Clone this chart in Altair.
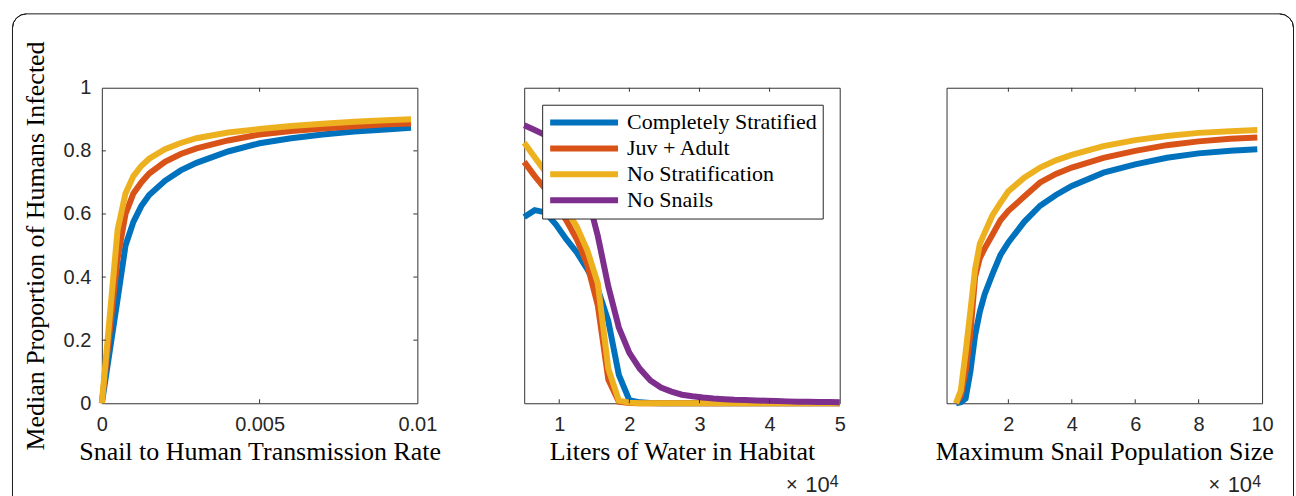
import altair as alt
import pandas as pd

SERIES = ["Completely Stratified", "Juv + Adult", "No Stratification", "No Snails"]
COLORS = ["#0072BD", "#D95319", "#EDB120", "#7E2F8E"]

# Panel 1: snail-to-human transmission rate
rate_x = [0, 0.0005, 0.00075, 0.001, 0.00125, 0.0015, 0.002, 0.0025, 0.003,
          0.004, 0.005, 0.006, 0.007, 0.008, 0.009, 0.0098]
rate_blue = [0, 0.33, 0.50, 0.575, 0.625, 0.66, 0.705, 0.738, 0.762,
             0.798, 0.824, 0.840, 0.852, 0.861, 0.868, 0.873]
rate_red = [0, 0.46, 0.60, 0.665, 0.700, 0.728, 0.765, 0.790, 0.808,
            0.833, 0.852, 0.863, 0.871, 0.878, 0.884, 0.887]
rate_yellow = [0, 0.55, 0.665, 0.720, 0.752, 0.775, 0.805, 0.825, 0.840,
               0.858, 0.869, 0.879, 0.886, 0.892, 0.897, 0.900]

# Panel 2: liters of water in habitat
water_x = [5000, 6500, 8000, 9500, 11000, 12500, 14000, 15500, 17000, 18500,
           20000, 21500, 23000, 24500, 26000, 27500, 29000, 30500, 32000, 33500,
           35000, 36500, 38000, 39500, 41000, 42500, 44000, 45500, 47000, 48500, 50000]
water_blue = [0.59, 0.612, 0.605, 0.567, 0.52, 0.478, 0.425, 0.362, 0.26, 0.09,
              0.01, 0.003, 0.001, 0.0, 0.0, 0.0, 0.0, 0.0, 0.0, 0.0,
              0.0, 0.0, 0.0, 0.0, 0.0, 0.0, 0.0, 0.0, 0.0, 0.0, 0.0]
water_red = [0.765, 0.72, 0.68, 0.63, 0.58, 0.52, 0.44, 0.31, 0.075, 0.005,
             0.001, 0.0, 0.0, 0.0, 0.0, 0.0, 0.0, 0.0, 0.0, 0.0,
             0.0, 0.0, 0.0, 0.0, 0.0, 0.0, 0.0, 0.0, 0.0, 0.0, 0.0]
water_yellow = [0.826, 0.78, 0.735, 0.68, 0.615, 0.56, 0.485, 0.38, 0.11, 0.008,
                0.002, 0.0, 0.0, 0.0, 0.0, 0.0, 0.0, 0.0, 0.0, 0.0,
                0.0, 0.0, 0.0, 0.0, 0.0, 0.0, 0.0, 0.0, 0.0, 0.0, 0.0]
water_purple = [0.881, 0.866, 0.85, 0.83, 0.80, 0.75, 0.66, 0.53, 0.37, 0.24,
                0.16, 0.109, 0.072, 0.05, 0.037, 0.027, 0.022, 0.018, 0.015, 0.013,
                0.011, 0.010, 0.009, 0.008, 0.007, 0.006, 0.005, 0.005, 0.004, 0.004, 0.003]

# Panel 3: maximum snail population size
pop_x = [3500, 5000, 6500, 8000, 9500, 11000, 12500, 15000, 17500, 20000,
         25000, 30000, 35000, 40000, 50000, 60000, 70000, 80000, 90000, 98500]
pop_blue = [0.0, 0.003, 0.015, 0.10, 0.215, 0.29, 0.345, 0.41, 0.47, 0.51,
            0.575, 0.626, 0.66, 0.689, 0.731, 0.757, 0.778, 0.792, 0.80, 0.805]
pop_red = [0.0, 0.025, 0.10, 0.22, 0.40, 0.46, 0.49, 0.535, 0.58, 0.61,
           0.655, 0.70, 0.727, 0.747, 0.778, 0.80, 0.818, 0.83, 0.838, 0.842]
pop_yellow = [0.0, 0.04, 0.16, 0.29, 0.425, 0.505, 0.54, 0.596, 0.635, 0.672,
              0.715, 0.747, 0.77, 0.787, 0.815, 0.834, 0.847, 0.857, 0.862, 0.866]

y_tick_values = [0, 0.2, 0.4, 0.6, 0.8, 1]
rate_tick_values = [0, 0.005, 0.01]
water_tick_values = [10000, 20000, 30000, 40000, 50000]
pop_tick_values = [20000, 40000, 60000, 80000, 100000]

W = H = 316
AXIS_COLOR = "#333333"
FRAME_COLOR = "#1a1a1a"
LABEL_FONT = "Liberation Sans"
TITLE_FONT = "Liberation Serif"


def long_df(xs, ys):
    rows = []
    for s, vals in ys.items():
        for xv, yv in zip(xs, vals):
            rows.append({"series": s, "x": xv, "y": yv})
    return pd.DataFrame(rows)


color_scale = alt.Scale(domain=SERIES, range=COLORS)


def line_layers(df, xenc, yenc, legend=None):
    layers = []
    for s in SERIES:
        if s not in set(df["series"]):
            continue
        layers.append(
            alt.Chart(df).transform_filter(alt.datum.series == s)
            .mark_line(strokeWidth=6)
            .encode(x=xenc, y=yenc,
                    color=alt.Color("series:N", scale=color_scale, legend=legend))
        )
    return layers


def x_tick_layers(vals, xenc):
    d = pd.DataFrame({"x": vals})
    top = alt.Chart(d).mark_rule(color=AXIS_COLOR, strokeWidth=1).encode(
        x=xenc, y=alt.value(0), y2=alt.value(4))
    bot = alt.Chart(d).mark_rule(color=AXIS_COLOR, strokeWidth=1).encode(
        x=xenc, y=alt.value(H), y2=alt.value(H - 4))
    return [top, bot]


def y_tick_layers(vals, yenc):
    d = pd.DataFrame({"y": vals})
    left = alt.Chart(d).mark_rule(color=AXIS_COLOR, strokeWidth=1).encode(
        y=yenc, x=alt.value(0), x2=alt.value(4))
    right = alt.Chart(d).mark_rule(color=AXIS_COLOR, strokeWidth=1).encode(
        y=yenc, x=alt.value(W), x2=alt.value(W - 4))
    return [left, right]


def exponent_layers():
    one = pd.DataFrame({"k": [0]})
    times = alt.Chart(one).mark_text(
        text="×", align="right", baseline="alphabetic",
        font=LABEL_FONT, fontSize=20, color="#262626").encode(
        x=alt.value(274), y=alt.value(404))
    ten = alt.Chart(one).mark_text(
        text="10", align="right", baseline="alphabetic",
        font=LABEL_FONT, fontSize=22, color="#262626").encode(
        x=alt.value(306), y=alt.value(405))
    sup = alt.Chart(one).mark_text(
        text="4", align="right", baseline="alphabetic",
        font=LABEL_FONT, fontSize=16, color="#262626").encode(
        x=alt.value(315), y=alt.value(400))
    return [times, ten, sup]


def frame_layers():
    one = pd.DataFrame({"k": [0]})
    L, R, T, B, r = -89.5, 1193.5, -74, 410, 14
    top = alt.Chart(one).mark_rule(color=FRAME_COLOR, strokeWidth=1).encode(
        x=alt.value(L + r), x2=alt.value(R - r), y=alt.value(T))
    left = alt.Chart(one).mark_rule(color=FRAME_COLOR, strokeWidth=1).encode(
        x=alt.value(L), y=alt.value(T + r), y2=alt.value(B))
    right = alt.Chart(one).mark_rule(color=FRAME_COLOR, strokeWidth=1).encode(
        x=alt.value(R), y=alt.value(T + r), y2=alt.value(B))
    tl = alt.Chart(one).mark_arc(
        theta=4.712389, theta2=6.283185, radius=r, radius2=r,
        filled=False, stroke=FRAME_COLOR, strokeWidth=1).encode(
        x=alt.value(L + r), y=alt.value(T + r))
    tr = alt.Chart(one).mark_arc(
        theta=0.0, theta2=1.570796, radius=r, radius2=r,
        filled=False, stroke=FRAME_COLOR, strokeWidth=1).encode(
        x=alt.value(R - r), y=alt.value(T + r))
    return [top, left, right, tl, tr]


def x_axis(values, title, label_expr=None, fmt=None):
    kw = dict(values=values, title=title, labelFlush=False, ticks=False,
              domain=False, grid=False, labelPadding=11, titlePadding=4)
    if label_expr:
        kw["labelExpr"] = label_expr
    if fmt:
        kw["format"] = fmt
    return alt.Axis(**kw)


y_scale = alt.Scale(domain=[0, 1], nice=False, zero=False)

# ---- Panel 1
df1 = long_df(rate_x, {SERIES[0]: rate_blue, SERIES[1]: rate_red, SERIES[2]: rate_yellow})
x1 = alt.X("x:Q", scale=alt.Scale(domain=[0, 0.01], nice=False, zero=False),
           axis=x_axis(rate_tick_values, "Snail to Human Transmission Rate", fmt="~g"))
y1 = alt.Y("y:Q", scale=y_scale,
           axis=alt.Axis(values=y_tick_values, format="~g", title="Median Proportion of Humans Infected",
                         ticks=False, domain=False, grid=False, labelPadding=11, titlePadding=15))
panel1 = alt.layer(
    *line_layers(df1, x1, y1),
    *x_tick_layers([0.005], x1),
    *y_tick_layers([0.2, 0.4, 0.6, 0.8], y1),
    *frame_layers(),
).properties(width=W, height=H)

# ---- Panel 2
df2 = long_df(water_x, {SERIES[0]: water_blue, SERIES[1]: water_red,
                        SERIES[2]: water_yellow, SERIES[3]: water_purple})
x2 = alt.X("x:Q", scale=alt.Scale(domain=[5000, 50000], nice=False, zero=False),
           axis=x_axis(water_tick_values, "Liters of Water in Habitat",
                       label_expr="format(datum.value / 10000, '~g')"))
y2 = alt.Y("y:Q", scale=y_scale, axis=None)
legend = alt.Legend(
    title=None, orient="none", legendX=18, legendY=17, direction="vertical",
    symbolType="stroke", symbolSize=4624, symbolStrokeWidth=6,
    labelFont=TITLE_FONT, labelFontSize=22, labelColor="black", labelLimit=400,
    labelOffset=6, clipHeight=25.5, rowPadding=0, padding=5,
    strokeColor="#262626", fillColor="white",
)
panel2 = alt.layer(
    *line_layers(df2, x2, y2, legend=legend),
    *x_tick_layers([10000, 20000, 30000, 40000], x2),
    *exponent_layers(),
).properties(width=W, height=H)

# ---- Panel 3
df3 = long_df(pop_x, {SERIES[0]: pop_blue, SERIES[1]: pop_red, SERIES[2]: pop_yellow})
x3 = alt.X("x:Q", scale=alt.Scale(domain=[500, 100000], nice=False, zero=False),
           axis=x_axis(pop_tick_values, "Maximum Snail Population Size",
                       label_expr="format(datum.value / 10000, '~g')"))
y3 = alt.Y("y:Q", scale=y_scale, axis=None)
panel3 = alt.layer(
    *line_layers(df3, x3, y3),
    *x_tick_layers([20000, 40000, 60000, 80000], x3),
    *exponent_layers(),
).properties(width=W, height=H)

chart = alt.hconcat(panel1, panel2, panel3, spacing=107, bounds="flush").resolve_legend(
    color="independent"
).properties(
    padding={"left": 10, "top": 10.5, "right": 0, "bottom": 0},
    background="white",
).configure_view(
    stroke=AXIS_COLOR, strokeWidth=1
).configure_axis(
    labelFont=LABEL_FONT, labelFontSize=20, labelColor="#262626",
    titleFont=TITLE_FONT, titleFontSize=26, titleFontWeight="normal", titleColor="black",
)

chart.save("out.html", embed_options={"renderer": "svg", "actions": False})
